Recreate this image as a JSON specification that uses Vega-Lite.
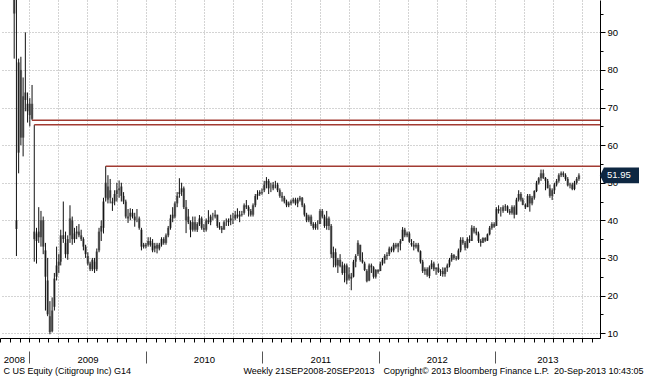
{
"$schema": "https://vega.github.io/schema/vega-lite/v6.json",
"width": 600, "height": 338,
"autosize": {"type": "none"},
"padding": {"left": 0, "top": 0, "right": 45, "bottom": 38},
"background": "white",
"config": {"view": {"stroke": null}, "font": "Liberation Sans",
  "axis": {"labelFont": "Liberation Sans", "titleFont": "Liberation Sans", "labelFontSize": 9.5, "titleFontSize": 9, "titleFontWeight": "normal", "labelColor": "#000", "titleColor": "#000"}},
"datasets": {
"w": [
{"d":"2008-09-26","o":195,"h":230,"l":180,"c":208},
{"d":"2008-10-03","o":205,"h":232,"l":165,"c":180},
{"d":"2008-10-10","o":176,"h":185,"l":118,"c":140},
{"d":"2008-10-17","o":150,"h":168,"l":126,"c":152},
{"d":"2008-10-24","o":148,"h":152,"l":112,"c":126},
{"d":"2008-10-31","o":124,"h":145,"l":110,"c":136},
{"d":"2008-11-07","o":140,"h":145,"l":104,"c":108},
{"d":"2008-11-14","o":105,"h":112,"l":83,"c":95},
{"d":"2008-11-21","o":40,"h":99.5,"l":30.5,"c":37.7},
{"d":"2008-11-28","o":58,"h":83,"l":52.5,"c":82},
{"d":"2008-12-05","o":80,"h":83.5,"l":60,"c":62},
{"d":"2008-12-12","o":62,"h":78,"l":57,"c":73},
{"d":"2008-12-19","o":74,"h":90,"l":69,"c":72},
{"d":"2008-12-26","o":71,"h":74,"l":66,"c":69},
{"d":"2009-01-02","o":68,"h":72.5,"l":65,"c":71},
{"d":"2009-01-09","o":71,"h":76,"l":66.6,"c":67},
{"d":"2009-01-16","o":37,"h":65.4,"l":29,"c":35},
{"d":"2009-01-23","o":34.5,"h":38,"l":28.5,"c":36.5},
{"d":"2009-01-30","o":37,"h":43.5,"l":34,"c":35.5},
{"d":"2009-02-06","o":35.5,"h":42.5,"l":33,"c":40},
{"d":"2009-02-13","o":40,"h":41,"l":31,"c":33},
{"d":"2009-02-20","o":32,"h":34,"l":16,"c":25},
{"d":"2009-02-27","o":24,"h":30,"l":14.5,"c":15},
{"d":"2009-03-06","o":14.5,"h":18.5,"l":9.7,"c":10.3},
{"d":"2009-03-13","o":10.5,"h":19.5,"l":10.2,"c":16},
{"d":"2009-03-20","o":17,"h":26,"l":16,"c":24.5},
{"d":"2009-03-27","o":25,"h":33,"l":24,"c":28},
{"d":"2009-04-03","o":28,"h":31,"l":26,"c":29},
{"d":"2009-04-09","o":29,"h":37.5,"l":28,"c":36},
{"d":"2009-04-17","o":36,"h":45,"l":34,"c":35},
{"d":"2009-04-24","o":34,"h":37,"l":30,"c":31},
{"d":"2009-05-01","o":31,"h":36,"l":29.5,"c":35},
{"d":"2009-05-08","o":36,"h":44,"l":34,"c":40.5},
{"d":"2009-05-15","o":40,"h":41,"l":33.5,"c":35},
{"d":"2009-05-22","o":35,"h":38,"l":34,"c":36.5},
{"d":"2009-05-29","o":36.5,"h":38.5,"l":35,"c":37},
{"d":"2009-06-05","o":37,"h":39,"l":35.5,"c":36},
{"d":"2009-06-12","o":36,"h":37.5,"l":34.5,"c":35},
{"d":"2009-06-19","o":35,"h":35.5,"l":32,"c":33},
{"d":"2009-06-26","o":33,"h":33.5,"l":30,"c":31},
{"d":"2009-07-03","o":30.5,"h":31.5,"l":28,"c":28.5},
{"d":"2009-07-10","o":28.5,"h":29,"l":26.5,"c":27},
{"d":"2009-07-17","o":27,"h":30,"l":26.5,"c":29.5},
{"d":"2009-07-24","o":29,"h":30,"l":26,"c":27},
{"d":"2009-07-31","o":27,"h":32.5,"l":26.5,"c":31.7},
{"d":"2009-08-07","o":32,"h":38,"l":31.5,"c":37},
{"d":"2009-08-14","o":37,"h":40,"l":34.5,"c":38.5},
{"d":"2009-08-21","o":38,"h":46,"l":36.5,"c":45},
{"d":"2009-08-28","o":46,"h":54.4,"l":45,"c":50},
{"d":"2009-09-04","o":49,"h":52,"l":44.5,"c":45.5},
{"d":"2009-09-11","o":46,"h":51,"l":44.5,"c":48},
{"d":"2009-09-18","o":45,"h":46,"l":42.5,"c":44.5},
{"d":"2009-09-25","o":45,"h":48,"l":44,"c":47},
{"d":"2009-10-02","o":47,"h":50,"l":45,"c":48},
{"d":"2009-10-09","o":48,"h":50.6,"l":46,"c":48.5},
{"d":"2009-10-16","o":49,"h":50,"l":45,"c":46.5},
{"d":"2009-10-23","o":46.5,"h":47.5,"l":44.3,"c":45},
{"d":"2009-10-30","o":45,"h":45.5,"l":40.5,"c":41},
{"d":"2009-11-06","o":41,"h":43,"l":39.3,"c":40.5},
{"d":"2009-11-13","o":41,"h":43.2,"l":40,"c":42},
{"d":"2009-11-20","o":42,"h":43,"l":40.5,"c":41},
{"d":"2009-11-27","o":41,"h":42,"l":38.3,"c":40},
{"d":"2009-12-04","o":40.5,"h":43,"l":39.5,"c":40.5},
{"d":"2009-12-11","o":40.5,"h":41,"l":37.5,"c":38},
{"d":"2009-12-18","o":37.5,"h":38,"l":32,"c":33},
{"d":"2009-12-25","o":33,"h":34,"l":32.5,"c":33.5},
{"d":"2010-01-01","o":33.5,"h":34,"l":32.5,"c":33.1},
{"d":"2010-01-08","o":33.5,"h":35.5,"l":33,"c":34.5},
{"d":"2010-01-15","o":34.5,"h":35.5,"l":33,"c":33.5},
{"d":"2010-01-22","o":34,"h":35,"l":31.5,"c":32},
{"d":"2010-01-29","o":32.5,"h":34,"l":31.5,"c":33.2},
{"d":"2010-02-05","o":33.5,"h":34,"l":31.2,"c":32.5},
{"d":"2010-02-12","o":32.5,"h":34,"l":32,"c":33.5},
{"d":"2010-02-19","o":33.5,"h":35.5,"l":33,"c":35},
{"d":"2010-02-26","o":35,"h":35.5,"l":33.5,"c":34},
{"d":"2010-03-05","o":34,"h":36.5,"l":33.5,"c":36},
{"d":"2010-03-12","o":36,"h":38.5,"l":35.5,"c":38},
{"d":"2010-03-19","o":38,"h":41.5,"l":37.5,"c":40.5},
{"d":"2010-03-26","o":40.5,"h":43.5,"l":39.5,"c":41.5},
{"d":"2010-04-02","o":41,"h":45,"l":40.5,"c":44.5},
{"d":"2010-04-09","o":44.5,"h":47.5,"l":43.5,"c":46.5},
{"d":"2010-04-16","o":47,"h":51.2,"l":46,"c":47.5},
{"d":"2010-04-23","o":47.5,"h":50,"l":46.5,"c":48.5},
{"d":"2010-04-30","o":48.5,"h":49,"l":43,"c":43.5},
{"d":"2010-05-07","o":43.5,"h":45.4,"l":36.6,"c":40},
{"d":"2010-05-14","o":41,"h":43,"l":39,"c":39.5},
{"d":"2010-05-21","o":39.5,"h":40,"l":35.5,"c":37.5},
{"d":"2010-05-28","o":37.5,"h":41,"l":37,"c":39.5},
{"d":"2010-06-04","o":39.5,"h":41,"l":37,"c":37.5},
{"d":"2010-06-11","o":37.5,"h":39.5,"l":36.9,"c":39},
{"d":"2010-06-18","o":39,"h":41.4,"l":38.5,"c":40.5},
{"d":"2010-06-25","o":40.5,"h":41,"l":37.5,"c":38},
{"d":"2010-07-02","o":38,"h":39,"l":36.9,"c":37.5},
{"d":"2010-07-09","o":37.5,"h":40.5,"l":37,"c":40},
{"d":"2010-07-16","o":40,"h":42.7,"l":39,"c":39.5},
{"d":"2010-07-23","o":39.5,"h":41.5,"l":38.7,"c":41},
{"d":"2010-07-30","o":41,"h":42,"l":40,"c":41},
{"d":"2010-08-06","o":41,"h":42.7,"l":40.5,"c":41.5},
{"d":"2010-08-13","o":41.5,"h":41.5,"l":38,"c":38.5},
{"d":"2010-08-20","o":38.5,"h":39.5,"l":37.5,"c":38},
{"d":"2010-08-27","o":38,"h":38.5,"l":36.6,"c":37.5},
{"d":"2010-09-03","o":37.5,"h":40,"l":37.5,"c":39.5},
{"d":"2010-09-10","o":39.5,"h":40.5,"l":38.5,"c":39.5},
{"d":"2010-09-17","o":39.5,"h":40.5,"l":38.5,"c":40},
{"d":"2010-09-24","o":40,"h":41.5,"l":38.7,"c":40.5},
{"d":"2010-10-01","o":40.5,"h":42,"l":39,"c":40.5},
{"d":"2010-10-08","o":40.5,"h":42.5,"l":40,"c":41.5},
{"d":"2010-10-15","o":41.5,"h":43.2,"l":40.5,"c":41},
{"d":"2010-10-22","o":41,"h":42.5,"l":39.5,"c":41.5},
{"d":"2010-10-29","o":41.5,"h":42.5,"l":41,"c":41.7},
{"d":"2010-11-05","o":42,"h":44.5,"l":41.5,"c":44},
{"d":"2010-11-12","o":44,"h":45.4,"l":43,"c":43.5},
{"d":"2010-11-19","o":43.5,"h":44,"l":41,"c":42.5},
{"d":"2010-11-26","o":42.5,"h":43,"l":41,"c":41.5},
{"d":"2010-12-03","o":41.5,"h":44.5,"l":41,"c":44},
{"d":"2010-12-10","o":44,"h":47,"l":43.5,"c":46.5},
{"d":"2010-12-17","o":46.5,"h":48,"l":45.5,"c":47},
{"d":"2010-12-24","o":47,"h":48,"l":46.5,"c":47.5},
{"d":"2010-12-31","o":47.5,"h":48.5,"l":46.8,"c":47.3},
{"d":"2011-01-07","o":48,"h":50.5,"l":47.5,"c":49.5},
{"d":"2011-01-14","o":49.5,"h":51.5,"l":48.5,"c":50.5},
{"d":"2011-01-21","o":50.5,"h":51,"l":47,"c":48.5},
{"d":"2011-01-28","o":48.5,"h":50,"l":47.5,"c":48.5},
{"d":"2011-02-04","o":48.5,"h":50.2,"l":48,"c":49.5},
{"d":"2011-02-11","o":49.5,"h":50.5,"l":48.5,"c":49.5},
{"d":"2011-02-18","o":49.5,"h":50,"l":47.5,"c":48},
{"d":"2011-02-25","o":48,"h":48.5,"l":46,"c":46.5},
{"d":"2011-03-04","o":46.5,"h":47.5,"l":45,"c":46},
{"d":"2011-03-11","o":46,"h":46.5,"l":44.5,"c":45},
{"d":"2011-03-18","o":45,"h":45.5,"l":43.5,"c":44},
{"d":"2011-03-25","o":44,"h":45,"l":43.5,"c":44.5},
{"d":"2011-04-01","o":44.5,"h":45.5,"l":44,"c":45},
{"d":"2011-04-08","o":45,"h":46,"l":44.5,"c":45.5},
{"d":"2011-04-15","o":45.5,"h":46,"l":44,"c":44.5},
{"d":"2011-04-22","o":44.5,"h":46,"l":43.5,"c":45.5},
{"d":"2011-04-29","o":45.5,"h":46.5,"l":45,"c":46},
{"d":"2011-05-06","o":46,"h":46.2,"l":43.5,"c":44},
{"d":"2011-05-13","o":44,"h":44.5,"l":41,"c":41.5},
{"d":"2011-05-20","o":41.5,"h":42,"l":39.5,"c":40},
{"d":"2011-05-27","o":40,"h":41.5,"l":39.5,"c":41},
{"d":"2011-06-03","o":41,"h":41.5,"l":38.5,"c":39},
{"d":"2011-06-10","o":39,"h":39.5,"l":37.5,"c":38},
{"d":"2011-06-17","o":38,"h":39.5,"l":37.5,"c":39},
{"d":"2011-06-24","o":39,"h":40,"l":37.5,"c":39},
{"d":"2011-07-01","o":39,"h":43,"l":39,"c":42.5},
{"d":"2011-07-08","o":42.5,"h":43,"l":40.5,"c":41},
{"d":"2011-07-15","o":41,"h":41.5,"l":38,"c":38.5},
{"d":"2011-07-22","o":38.5,"h":42.5,"l":37.5,"c":40.5},
{"d":"2011-07-29","o":40.5,"h":41,"l":37.4,"c":38.5},
{"d":"2011-08-05","o":38.5,"h":39,"l":30,"c":31},
{"d":"2011-08-12","o":30,"h":33,"l":27.5,"c":31.5},
{"d":"2011-08-19","o":31.5,"h":32.5,"l":27.5,"c":28},
{"d":"2011-08-26","o":28,"h":30,"l":26,"c":29.5},
{"d":"2011-09-02","o":29.5,"h":31,"l":27.5,"c":27.8},
{"d":"2011-09-09","o":28,"h":29,"l":25.5,"c":26},
{"d":"2011-09-16","o":26,"h":28.5,"l":23.5,"c":28},
{"d":"2011-09-23","o":28,"h":28.5,"l":23,"c":24},
{"d":"2011-09-30","o":24.5,"h":27.5,"l":24,"c":25.6},
{"d":"2011-10-07","o":25,"h":26,"l":21.4,"c":24.5},
{"d":"2011-10-14","o":25,"h":29.5,"l":24.8,"c":29},
{"d":"2011-10-21","o":29,"h":31,"l":27.5,"c":30.5},
{"d":"2011-10-28","o":31,"h":34.7,"l":30.5,"c":34},
{"d":"2011-11-04","o":33.5,"h":33.5,"l":29,"c":29.5},
{"d":"2011-11-11","o":29.5,"h":31.5,"l":28.5,"c":28.8},
{"d":"2011-11-18","o":28.5,"h":29,"l":26.5,"c":26.8},
{"d":"2011-11-25","o":26.5,"h":27,"l":23.5,"c":23.8},
{"d":"2011-12-02","o":24,"h":28.5,"l":23.8,"c":28},
{"d":"2011-12-09","o":28,"h":28.5,"l":26,"c":27.5},
{"d":"2011-12-16","o":27.5,"h":27.8,"l":24.5,"c":25},
{"d":"2011-12-23","o":25,"h":27,"l":24.5,"c":26.8},
{"d":"2011-12-30","o":26.8,"h":27,"l":25.8,"c":26.3},
{"d":"2012-01-06","o":26.5,"h":29,"l":26.5,"c":28.5},
{"d":"2012-01-13","o":28.5,"h":30,"l":28,"c":29.5},
{"d":"2012-01-20","o":29.5,"h":31,"l":28.5,"c":30.5},
{"d":"2012-01-27","o":30.5,"h":31.5,"l":29.5,"c":30.8},
{"d":"2012-02-03","o":31,"h":33,"l":30.5,"c":32.5},
{"d":"2012-02-10","o":32.5,"h":33,"l":31.5,"c":32},
{"d":"2012-02-17","o":32,"h":34,"l":31.5,"c":33.5},
{"d":"2012-02-24","o":33.5,"h":34,"l":32.5,"c":33},
{"d":"2012-03-02","o":33,"h":34,"l":31.5,"c":33.8},
{"d":"2012-03-09","o":33.8,"h":35,"l":32,"c":34.5},
{"d":"2012-03-16","o":34.5,"h":38.2,"l":34.5,"c":37.5},
{"d":"2012-03-23","o":37.5,"h":38,"l":35.5,"c":36},
{"d":"2012-03-30","o":36,"h":37,"l":35.5,"c":36.5},
{"d":"2012-04-06","o":36.5,"h":37,"l":34,"c":34.3},
{"d":"2012-04-13","o":34,"h":35,"l":33,"c":33.5},
{"d":"2012-04-20","o":33.5,"h":34.5,"l":32,"c":33},
{"d":"2012-04-27","o":33,"h":34,"l":32.5,"c":33.5},
{"d":"2012-05-04","o":33.5,"h":34,"l":31.5,"c":31.8},
{"d":"2012-05-11","o":31.8,"h":32,"l":28.5,"c":29},
{"d":"2012-05-18","o":29,"h":29.5,"l":26,"c":26.5},
{"d":"2012-05-25","o":26.5,"h":27.5,"l":25.5,"c":27},
{"d":"2012-06-01","o":27,"h":27.5,"l":25,"c":25.5},
{"d":"2012-06-08","o":25.2,"h":28,"l":24.6,"c":27.5},
{"d":"2012-06-15","o":27.5,"h":29.4,"l":27,"c":28.5},
{"d":"2012-06-22","o":28.5,"h":29,"l":26.5,"c":27},
{"d":"2012-06-29","o":27,"h":27.5,"l":25.5,"c":27.4},
{"d":"2012-07-06","o":27.4,"h":28.5,"l":26,"c":26.3},
{"d":"2012-07-13","o":26.3,"h":27,"l":25.2,"c":26.5},
{"d":"2012-07-20","o":26.5,"h":27.5,"l":25,"c":25.7},
{"d":"2012-07-27","o":25.7,"h":27.5,"l":25,"c":27.3},
{"d":"2012-08-03","o":27.3,"h":28.5,"l":26.3,"c":28},
{"d":"2012-08-10","o":28,"h":30,"l":27.5,"c":29.5},
{"d":"2012-08-17","o":29.5,"h":31.3,"l":29,"c":30.8},
{"d":"2012-08-24","o":30.8,"h":31,"l":29.5,"c":30},
{"d":"2012-08-31","o":30,"h":30.5,"l":29.3,"c":29.7},
{"d":"2012-09-07","o":29.7,"h":32.5,"l":29.5,"c":32},
{"d":"2012-09-14","o":32,"h":35.5,"l":31.5,"c":34.8},
{"d":"2012-09-21","o":34.8,"h":35.5,"l":33.5,"c":34},
{"d":"2012-09-28","o":34,"h":34.5,"l":32,"c":32.7},
{"d":"2012-10-05","o":32.7,"h":35.5,"l":32.5,"c":35},
{"d":"2012-10-12","o":35,"h":36,"l":34,"c":34.5},
{"d":"2012-10-19","o":34.5,"h":38.7,"l":34.5,"c":38},
{"d":"2012-10-26","o":38,"h":38.5,"l":36.5,"c":37},
{"d":"2012-11-02","o":37,"h":38,"l":36,"c":36.5},
{"d":"2012-11-09","o":36.5,"h":37,"l":34,"c":34.5},
{"d":"2012-11-16","o":34.5,"h":35,"l":33,"c":34},
{"d":"2012-11-23","o":34,"h":35.5,"l":34,"c":35.3},
{"d":"2012-11-30","o":35.3,"h":35.5,"l":34.3,"c":34.6},
{"d":"2012-12-07","o":34.6,"h":36.5,"l":34.5,"c":36.3},
{"d":"2012-12-14","o":36.3,"h":38.5,"l":36,"c":38},
{"d":"2012-12-21","o":38,"h":39.5,"l":37.5,"c":39},
{"d":"2012-12-28","o":39,"h":39.5,"l":38,"c":38.3},
{"d":"2013-01-04","o":38.5,"h":43.5,"l":38.5,"c":43},
{"d":"2013-01-11","o":43,"h":44,"l":41.8,"c":42.5},
{"d":"2013-01-18","o":42.5,"h":43.5,"l":41,"c":42.5},
{"d":"2013-01-25","o":42.5,"h":44,"l":42,"c":43.5},
{"d":"2013-02-01","o":43.5,"h":44.3,"l":42.5,"c":43.7},
{"d":"2013-02-08","o":43.7,"h":44,"l":42,"c":42.5},
{"d":"2013-02-15","o":42.5,"h":43,"l":41.5,"c":42},
{"d":"2013-02-22","o":42,"h":44,"l":41.5,"c":43.5},
{"d":"2013-03-01","o":43.5,"h":44,"l":40.5,"c":41.5},
{"d":"2013-03-08","o":41.5,"h":46,"l":41.5,"c":45.5},
{"d":"2013-03-15","o":45.5,"h":48,"l":45,"c":47},
{"d":"2013-03-22","o":47,"h":47.5,"l":45,"c":45.5},
{"d":"2013-03-28","o":45.5,"h":46,"l":44,"c":44.1},
{"d":"2013-04-05","o":44.1,"h":44.5,"l":43,"c":43.5},
{"d":"2013-04-12","o":43.5,"h":47,"l":43.5,"c":46.5},
{"d":"2013-04-19","o":46.5,"h":47,"l":42.3,"c":44.5},
{"d":"2013-04-26","o":44.5,"h":46.5,"l":44,"c":46},
{"d":"2013-05-03","o":46,"h":48,"l":45.5,"c":47.8},
{"d":"2013-05-10","o":47.8,"h":50.5,"l":47.5,"c":50},
{"d":"2013-05-17","o":50,"h":51.5,"l":49.5,"c":51.2},
{"d":"2013-05-24","o":51.2,"h":53.5,"l":50.5,"c":52.5},
{"d":"2013-05-31","o":52.5,"h":53.5,"l":51,"c":51.3},
{"d":"2013-06-07","o":51.3,"h":51.5,"l":48,"c":50.5},
{"d":"2013-06-14","o":50.5,"h":51,"l":48.5,"c":48.5},
{"d":"2013-06-21","o":48.5,"h":49.5,"l":46,"c":46.5},
{"d":"2013-06-28","o":46.5,"h":48.5,"l":45.4,"c":48},
{"d":"2013-07-05","o":48,"h":50,"l":47,"c":49.5},
{"d":"2013-07-12","o":49.5,"h":51,"l":49,"c":50.5},
{"d":"2013-07-19","o":50.5,"h":52.5,"l":50,"c":52},
{"d":"2013-07-26","o":52,"h":53,"l":51.5,"c":52.5},
{"d":"2013-08-02","o":52.5,"h":53,"l":51.5,"c":52},
{"d":"2013-08-09","o":52,"h":52.5,"l":50.5,"c":51},
{"d":"2013-08-16","o":51,"h":51.5,"l":49,"c":49.3},
{"d":"2013-08-23","o":49.3,"h":50,"l":48.5,"c":49.5},
{"d":"2013-08-30","o":49.5,"h":50,"l":48,"c":48.3},
{"d":"2013-09-06","o":48.3,"h":50.5,"l":48,"c":50},
{"d":"2013-09-13","o":50,"h":51.5,"l":49.5,"c":51},
{"d":"2013-09-20","o":51,"h":52.5,"l":50.5,"c":51.95}
]
},
"layer": [
{
 "data": {"name": "w"},
 "mark": {"type": "bar", "width": 2.5, "color": "#8c8c8c", "clip": true},
 "encoding": {
  "x": {"field": "d", "type": "temporal",
   "scale": {"domain": [{"year": 2008, "month": 9, "date": 30, "hours": 12}, {"year": 2013, "month": 11, "date": 25}], "nice": false, "padding": 0},
   "axis": {"orient": "bottom", "tickCount": {"interval": "month", "step": 1}, "labels": false, "grid": false, "ticks": true, "tickSize": 4, "tickColor": "#000", "domain": true, "domainColor": "#000", "domainWidth": 1,
     "title": "Weekly 21SEP2008-20SEP2013", "titleX": 243, "titleY": 35, "titleAlign": "left", "titleBaseline": "alphabetic"}},
  "y": {"field": "o", "type": "quantitative",
   "scale": {"domain": [8.7, 98.6], "nice": false, "zero": false},
   "axis": {"orient": "right", "values": [10, 20, 30, 40, 50, 60, 70, 80, 90], "tickSize": 5, "tickColor": "#000", "domainColor": "#000", "labelPadding": 2, "grid": true, "gridDash": [1, 2], "gridColor": "#a8a8a8", "title": null}},
  "y2": {"field": "c"}
 }
},
{
 "data": {"name": "w"},
 "mark": {"type": "rule", "color": "#111", "strokeWidth": 1, "clip": true},
 "encoding": {
  "x": {"field": "d", "type": "temporal",
   "axis": {"orient": "bottom", "values": [
     {"year": 2009, "month": 1, "date": 1}, {"year": 2009, "month": 4, "date": 1}, {"year": 2009, "month": 7, "date": 1}, {"year": 2009, "month": 10, "date": 1},
     {"year": 2010, "month": 1, "date": 1}, {"year": 2010, "month": 4, "date": 1}, {"year": 2010, "month": 7, "date": 1}, {"year": 2010, "month": 10, "date": 1},
     {"year": 2011, "month": 1, "date": 1}, {"year": 2011, "month": 4, "date": 1}, {"year": 2011, "month": 7, "date": 1}, {"year": 2011, "month": 10, "date": 1},
     {"year": 2012, "month": 1, "date": 1}, {"year": 2012, "month": 4, "date": 1}, {"year": 2012, "month": 7, "date": 1}, {"year": 2012, "month": 10, "date": 1},
     {"year": 2013, "month": 1, "date": 1}, {"year": 2013, "month": 4, "date": 1}, {"year": 2013, "month": 7, "date": 1}, {"year": 2013, "month": 10, "date": 1}],
     "grid": true, "gridDash": [1, 2], "gridColor": "#a8a8a8", "ticks": false, "labels": false, "domain": false,
     "title": "Copyright© 2013 Bloomberg Finance L.P.", "titleX": 383, "titleY": 35, "titleAlign": "left", "titleBaseline": "alphabetic"}},
  "y": {"field": "l", "type": "quantitative",
   "axis": {"orient": "right", "values": [15, 25, 35, 45, 55, 65, 75, 85, 95], "tickSize": 3, "tickColor": "#000", "labels": false, "domain": false, "grid": false, "title": null}},
  "y2": {"field": "h"}
 }
},
{
 "data": {"values": [{"s": "2009-01-09", "e": "2013-11-25", "v": 66.6}, {"s": "2009-01-16", "e": "2013-11-25", "v": 65.4}]},
 "mark": {"type": "rule", "color": "#a23b32", "strokeWidth": 1.5},
 "encoding": {
  "x": {"field": "s", "type": "temporal",
   "axis": {"orient": "bottom", "offset": 13, "values": [{"year": 2009, "month": 1, "date": 1}, {"year": 2010, "month": 1, "date": 1}, {"year": 2011, "month": 1, "date": 1}, {"year": 2012, "month": 1, "date": 1}, {"year": 2013, "month": 1, "date": 1}],
     "ticks": true, "tickSize": 12, "tickColor": "#555", "labels": false, "domain": false, "grid": false,
     "title": "20-Sep-2013 10:43:05", "titleX": 643, "titleY": 22, "titleAlign": "right", "titleBaseline": "alphabetic"}},
  "x2": {"field": "e"},
  "y": {"field": "v", "type": "quantitative", "axis": null}
 }
},
{
 "data": {"values": [{"s": "2009-08-28", "e": "2013-11-25", "v": 54.4}]},
 "mark": {"type": "rule", "color": "#a23b32", "strokeWidth": 1.5},
 "encoding": {
  "x": {"field": "s", "type": "temporal",
   "axis": {"orient": "bottom", "values": [{"year": 2008, "month": 11, "date": 13}, {"year": 2009, "month": 7, "date": 2}, {"year": 2010, "month": 7, "date": 2}, {"year": 2011, "month": 7, "date": 2}, {"year": 2012, "month": 7, "date": 1}, {"year": 2013, "month": 6, "date": 13}],
     "format": "%Y", "ticks": false, "tickSize": 0, "labelPadding": 24, "labelBaseline": "alphabetic", "labelFlush": false, "labelOverlap": false, "domain": false, "grid": false,
     "title": "C US Equity (Citigroup Inc) G14", "titleX": 3, "titleY": 35, "titleAlign": "left", "titleBaseline": "alphabetic"}},
  "x2": {"field": "e"},
  "y": {"field": "v", "type": "quantitative", "axis": null}
 }
},
{
 "data": {"values": [{"v": 51.95, "t": "51.95"}]},
 "mark": {"type": "point", "shape": "M0,0L0.2,-0.4L2,-0.4L2,0.4L0.2,0.4Z", "size": 1521, "filled": true, "color": "#0e2742", "opacity": 1, "clip": false},
 "encoding": {
  "x": {"value": "width"},
  "y": {"field": "v", "type": "quantitative", "axis": null}
 }
},
{
 "data": {"values": [{"v": 51.95, "t": "51.95"}]},
 "mark": {"type": "text", "align": "left", "baseline": "middle", "dx": 7, "color": "#ffffff", "fontSize": 9.5, "font": "Liberation Sans", "clip": false},
 "encoding": {
  "x": {"value": "width"},
  "y": {"field": "v", "type": "quantitative", "axis": null},
  "text": {"field": "t"}
 }
}
],
"resolve": {"axis": {"x": "independent", "y": "independent"}}
}
